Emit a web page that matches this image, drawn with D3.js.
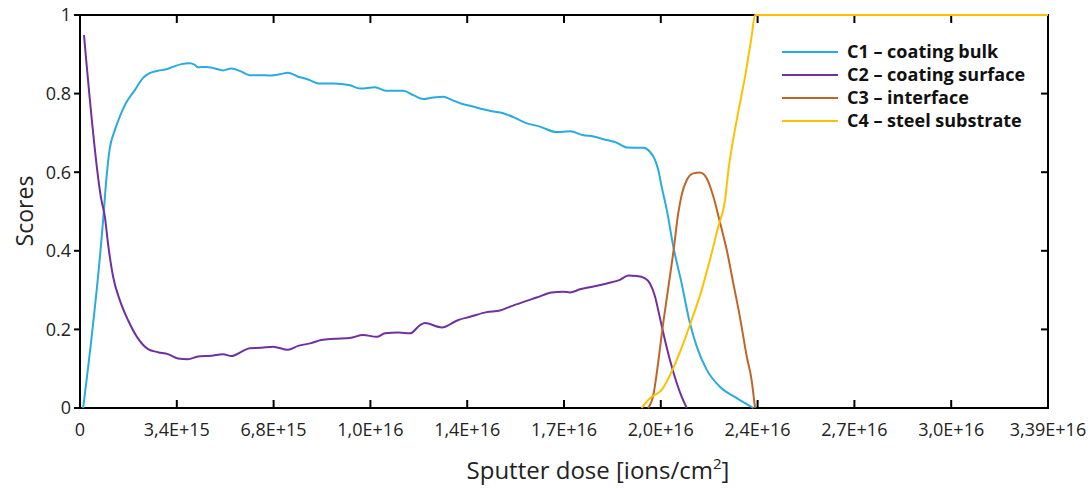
<!DOCTYPE html>
<html>
<head>
<meta charset="utf-8">
<script src="https://cdn.jsdelivr.net/npm/d3@7"></script>
<style>
  html, body { margin: 0; padding: 0; background: #fff; }
  svg { display: block; font-family: "Open Sans", sans-serif; }
</style>
</head>
<body>
<svg id="chart" width="1092" height="489"></svg>
<script>
// ---- Data (dose in units of 1E16 ions/cm², score 0..1) ----
const DOSE_UNIT = 1e16;
const xTickValues = [0, 0.339, 0.678, 1.017, 1.356, 1.695, 2.034, 2.373, 2.712, 3.051, 3.39];
const xTickLabels = ["0", "3,4E+15", "6,8E+15", "1,0E+16", "1,4E+16", "1,7E+16", "2,0E+16", "2,4E+16", "2,7E+16", "3,0E+16", "3,39E+16"];
const yTickValues = [0, 0.2, 0.4, 0.6, 0.8, 1];
const yTickLabels = ["0", "0.2", "0.4", "0.6", "0.8", "1"];

const c1Dose = [0.011,0.081,0.092,0.102,0.122,0.139,0.161,0.192,0.221,0.244,0.273,0.302,0.326,0.355,0.384,0.402,0.413,0.442,0.472,0.501,0.530,0.565,0.594,0.629,0.670,0.699,0.728,0.764,0.799,0.834,0.887,0.946,0.981,1.033,1.074,1.132,1.167,1.202,1.237,1.272,1.302,1.337,1.372,1.412,1.442,1.482,1.518,1.558,1.611,1.669,1.716,1.763,1.798,1.833,1.874,1.915,1.973,1.996,2.014,2.025,2.037,2.055,2.078,2.107,2.136,2.160,2.195,2.241,2.300,2.358];
const c1Score = [0.000,0.478,0.580,0.649,0.707,0.741,0.776,0.809,0.840,0.852,0.858,0.862,0.868,0.875,0.877,0.873,0.867,0.868,0.864,0.859,0.864,0.856,0.847,0.847,0.846,0.849,0.853,0.843,0.836,0.826,0.826,0.821,0.813,0.816,0.807,0.807,0.796,0.786,0.790,0.792,0.784,0.774,0.768,0.760,0.755,0.750,0.740,0.726,0.716,0.702,0.704,0.694,0.691,0.684,0.677,0.663,0.662,0.652,0.631,0.606,0.563,0.504,0.410,0.317,0.216,0.156,0.097,0.054,0.025,0.000];

const c2Dose = [0.014,0.075,0.087,0.098,0.116,0.139,0.168,0.203,0.238,0.273,0.308,0.343,0.378,0.413,0.460,0.501,0.530,0.565,0.594,0.635,0.676,0.728,0.764,0.810,0.845,0.892,0.950,0.991,1.039,1.068,1.115,1.156,1.191,1.208,1.267,1.325,1.366,1.424,1.471,1.506,1.553,1.599,1.652,1.693,1.716,1.751,1.798,1.845,1.891,1.920,1.950,1.979,1.996,2.014,2.025,2.043,2.066,2.090,2.107,2.125];
const c2Score = [0.949,0.529,0.487,0.419,0.334,0.275,0.224,0.177,0.150,0.142,0.137,0.126,0.124,0.131,0.133,0.137,0.132,0.143,0.152,0.153,0.156,0.148,0.158,0.165,0.173,0.176,0.179,0.186,0.181,0.190,0.192,0.190,0.211,0.216,0.205,0.224,0.232,0.244,0.248,0.258,0.270,0.281,0.294,0.296,0.294,0.302,0.309,0.317,0.326,0.337,0.336,0.330,0.317,0.283,0.249,0.190,0.122,0.063,0.029,0.000];

const c3Dose = [1.989,2.008,2.025,2.043,2.059,2.078,2.095,2.107,2.125,2.148,2.171,2.195,2.218,2.241,2.265,2.288,2.311,2.335,2.352,2.364];
const c3Score = [0.000,0.033,0.117,0.219,0.300,0.397,0.495,0.542,0.580,0.597,0.599,0.584,0.538,0.473,0.402,0.317,0.232,0.131,0.071,0.000];

const c4Dose = [1.967,1.996,2.037,2.078,2.113,2.142,2.177,2.206,2.235,2.259,2.271,2.300,2.329,2.352,2.364,3.390];
const c4Score = [0.000,0.025,0.046,0.102,0.165,0.224,0.300,0.377,0.461,0.529,0.606,0.733,0.843,0.945,1.000,1.000];

const seriesNames = ["C1 \u2013 coating bulk", "C2 \u2013 coating surface", "C3 \u2013 interface", "C4 \u2013 steel substrate"];
const seriesColors = ["#29ABE2", "#7030A0", "#C0652A", "#FFC000"];
const seriesDose = [c1Dose, c2Dose, c3Dose, c4Dose];
const seriesScore = [c1Score, c2Score, c3Score, c4Score];

// ---- Layout ----
const svg = d3.select("#chart");
const L = 80, R = 1048, T = 15, B = 408;
const x = d3.scaleLinear().domain([0, 3.39 * DOSE_UNIT]).range([L, R]);
const y = d3.scaleLinear().domain([0, 1]).range([B, T]);

// Frame
svg.append("rect").attr("x", L).attr("y", T).attr("width", R - L).attr("height", B - T)
  .attr("fill", "none").attr("stroke", "#000").attr("stroke-width", 2);

// Ticks
const tickG = svg.append("g").attr("stroke", "#000").attr("stroke-width", 2);
xTickValues.forEach(v => {
  const px = x(v * DOSE_UNIT);
  if (v > 0 && v < 3.39) {
    tickG.append("line").attr("x1", px).attr("x2", px).attr("y1", B).attr("y2", B - 8);
    tickG.append("line").attr("x1", px).attr("x2", px).attr("y1", T).attr("y2", T + 8);
  }
});
yTickValues.forEach(v => {
  const py = y(v);
  tickG.append("line").attr("x1", L - 6).attr("x2", L).attr("y1", py).attr("y2", py);
  if (v > 0 && v < 1) tickG.append("line").attr("x1", R - 7).attr("x2", R).attr("y1", py).attr("y2", py);
});

// Tick labels
xTickValues.forEach((v, i) => {
  svg.append("text").attr("x", x(v * DOSE_UNIT)).attr("y", 436)
    .attr("text-anchor", "middle").attr("font-size", 18).attr("fill", "#222")
    .text(xTickLabels[i]);
});
yTickValues.forEach((v, i) => {
  svg.append("text").attr("x", 71).attr("y", y(v)).attr("dy", "0.36em")
    .attr("text-anchor", "end").attr("font-size", 18).attr("fill", "#222")
    .text(yTickLabels[i]);
});

// Axis titles
const xt = svg.append("text").attr("x", 598).attr("y", 479).attr("text-anchor", "middle")
  .attr("font-size", 24).attr("fill", "#222");
xt.append("tspan").text("Sputter dose [ions/cm");
xt.append("tspan").attr("font-size", 15).attr("dy", -10).text("2");
xt.append("tspan").attr("dy", 10).text("]");

svg.append("text").attr("transform", "translate(33,211) rotate(-90)")
  .attr("text-anchor", "middle").attr("font-size", 23).attr("fill", "#222").text("Scores");

// Lines
const line = d3.line().x(d => x(d[0] * DOSE_UNIT)).y(d => y(d[1])).curve(d3.curveMonotoneX);
seriesDose.forEach((ds, i) => {
  const pts = ds.map((d, j) => [d, seriesScore[i][j]]);
  svg.append("path").datum(pts).attr("d", line).attr("fill", "none")
    .attr("stroke", seriesColors[i]).attr("stroke-width", 2);
});

// Legend
const legRows = [52, 75, 98, 121];
seriesNames.forEach((n, i) => {
  svg.append("line").attr("x1", 782).attr("x2", 838).attr("y1", legRows[i]).attr("y2", legRows[i])
    .attr("stroke", seriesColors[i]).attr("stroke-width", 2);
  svg.append("text").attr("x", 847).attr("y", legRows[i]).attr("dy", "0.35em")
    .attr("font-size", 18).attr("font-weight", "bold").attr("fill", "#111").text(n);
});
</script>
</body>
</html>
